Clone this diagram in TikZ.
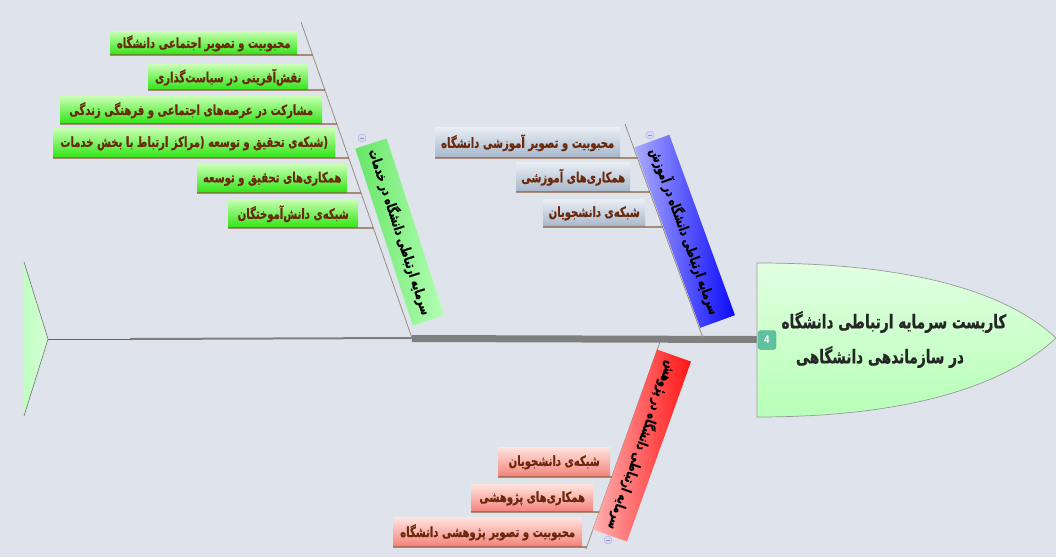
\documentclass[tikz,border=0pt]{standalone}
\usepackage{fontspec}
\setmainfont{DejaVu Sans}
\newfontfamily\ar[Script=Arabic,FakeStretch=0.72,BoldFeatures={FakeBold=0.6}]{DejaVu Sans}
\TeXXeTstate=1
\usetikzlibrary{calc,shadings}
\definecolor{bg}{HTML}{DFE4EC}
\definecolor{txtbrown}{HTML}{6A280C}
\definecolor{ulc}{HTML}{8A5A3A}
\definecolor{brl}{HTML}{9A8C7C}
\definecolor{gtop}{HTML}{C6FFB0}
\definecolor{gbot}{HTML}{2EE414}
\definecolor{btop}{HTML}{E8EDF4}
\definecolor{bbot}{HTML}{A6B6CA}
\definecolor{rtop}{HTML}{FFE2DC}
\definecolor{rbot}{HTML}{F2827A}
\definecolor{spine}{HTML}{7F7F7F}
\definecolor{badge}{HTML}{5EC29E}
\begin{document}
\begin{tikzpicture}[x=1pt,y=-1pt,
  sub/.style={inner sep=0pt, anchor=south west, font=\ar\bfseries\fontsize{14}{16}\selectfont, text=txtbrown},
  gsub/.style={sub, top color=gtop, bottom color=gbot},
  bsub/.style={sub, top color=btop, bottom color=bbot},
  rsub/.style={sub, top color=rtop, bottom color=rbot},
  uline/.style={draw=ulc, line width=1.1pt},
  bline/.style={draw=brl, line width=0.8pt},
  mainbox/.style={inner sep=0pt, font=\ar\bfseries\fontsize{14}{16}\selectfont, text=black},
  headtxt/.style={font=\ar\bfseries\fontsize{19}{22}\selectfont, text=black!85},
  collapse/.style={circle, minimum size=8pt, inner sep=0pt, draw=black!25!blue!30, fill=white!85!blue, line width=0.5pt,
    path picture={\draw[black!40, line width=0.6pt] ([xshift=-2pt]path picture bounding box.center) -- ([xshift=2pt]path picture bounding box.center);}},
]
\useasboundingbox (0,0) rectangle (1056,557);
\fill[bg] (0,0) rectangle (1056,557);

% coordinates of the branch lines and spine
\coordinate (gA) at (301,22);
\coordinate (gB) at (412,338);
\coordinate (bA) at (625,124);
\coordinate (bB) at (703,338);
\coordinate (rA) at (660,342);
\coordinate (rB) at (586,549);
\coordinate (tail) at (48,339);
\coordinate (sp1) at (130,339);
\coordinate (headL) at (757,339.5);

% tail
\fill[left color=green!25!white, right color=green!15!white] (24,262) -- (tail) -- (24,416) -- cycle;
\draw[gray, line width=0.6pt] (24,262) -- (tail) -- (24,416);

% spine
\draw[spine!80!black, line width=1pt] (tail) -- (sp1);
\draw[spine, line width=2pt] (sp1) -- (gB);
\draw[spine, line width=7pt] ([yshift=-0.5pt]gB) -- (headL);

% head
\draw[draw=gray!80, line width=0.7pt, top color=green!12!white, bottom color=green!28!white]
  (757,263) .. controls (920,263) and (1010,295) .. (1056,338)
  .. controls (1010,381) and (920,417) .. (757,417) -- cycle;
\node[headtxt] (h1) at (894,322) {\beginR کاربست سرمایه ارتباطی دانشگاه\endR};
\node[headtxt] (h2) at (880,357) {\beginR در سازماندهی دانشگاهی\endR};
\node[rounded corners=3pt, fill=badge, draw=badge!80!black, line width=0.4pt, minimum width=18pt, minimum height=19pt, inner sep=0pt,
  text=white, font=\sffamily\bfseries\fontsize{11}{12}\selectfont] (n4) at (767,340) {4};

% branch lines
\draw[bline] (gA) -- (gB);
\draw[bline] (bA) -- (bB);
\draw[bline] (rA) -- (rB);

% main branch boxes
\node[mainbox, rotate=-72, minimum width=186pt, minimum height=33pt, left color=green!55!white!90!black, right color=green!30!white] (gm) at (399.75,232)
  {\beginR سرمایه ارتباطی دانشگاه در خدمات\endR};
\node[mainbox, rotate=-70, minimum width=192pt, minimum height=37pt, left color={rgb,255:red,170;green,170;blue,255}, right color={rgb,255:red,10;green,10;blue,250}] (bm) at (684.75,231.25)
  {\beginR سرمایه ارتباطی دانشگاه در آموزش\endR};
\node[mainbox, rotate=-109.6, minimum width=191pt, minimum height=36pt, left color={rgb,255:red,255;green,176;blue,176}, right color={rgb,255:red,255;green,20;blue,20}] (rm) at (642,445.5)
  {\beginR سرمایه ارتباطی دانشگاه در پژوهش\endR};

% collapse markers
\node[collapse] (cg) at (362,138) {};
\node[collapse] (cb) at (650,135) {};
\node[collapse] (cr) at (608,540) {};

% green sub topics
\node[gsub, minimum width=187pt, minimum height=23pt] (g1) at (110,55) {\beginR محبوبیت و تصویر اجتماعی دانشگاه\endR};
\node[gsub, minimum width=160pt, minimum height=25pt] (g2) at (148,90) {\beginR نقش‌آفرینی در سیاست‌گذاری\endR};
\node[gsub, minimum width=262pt, minimum height=27pt] (g3) at (60,124) {\beginR مشارکت در عرصه‌های اجتماعی و فرهنگی زندگی\endR};
\node[gsub, minimum width=282pt, minimum height=29pt] (g4) at (53,158) {\beginR (شبکه‌ی تحقیق و توسعه (مراکز ارتباط با بخش خدمات\endR};
\node[gsub, minimum width=150pt, minimum height=28pt] (g5) at (197,193) {\beginR همکاری‌های تحقیق و توسعه\endR};
\node[gsub, minimum width=130pt, minimum height=28pt] (g6) at (228,228) {\beginR شبکه‌ی دانش‌آموختگان\endR};
\foreach \n in {g1,g2,g3,g4,g5,g6}
  \draw[uline] (\n.south west) -- (intersection of \n.south west--\n.south east and gA--gB);

% blue sub topics
\node[bsub, minimum width=185pt, minimum height=30pt] (b1) at (435,158) {\beginR محبوبیت و تصویر آموزشی دانشگاه\endR};
\node[bsub, minimum width=114pt, minimum height=29pt] (b2) at (516,192) {\beginR همکاری‌های آموزشی\endR};
\node[bsub, minimum width=102pt, minimum height=27pt] (b3) at (543,227) {\beginR شبکه‌ی دانشجویان\endR};
\foreach \n in {b1,b2,b3}
  \draw[uline] (\n.south west) -- (intersection of \n.south west--\n.south east and bA--bB);

% red sub topics
\node[rsub, minimum width=112pt, minimum height=29pt] (r1) at (498,477) {\beginR شبکه‌ی دانشجویان\endR};
\node[rsub, minimum width=122pt, minimum height=27pt] (r2) at (471,512) {\beginR همکاری‌های پژوهشی\endR};
\node[rsub, minimum width=189pt, minimum height=29pt] (r3) at (393,547) {\beginR محبوبیت و تصویر پژوهشی دانشگاه\endR};
\foreach \n in {r1,r2,r3}
  \draw[uline] (\n.south west) -- (intersection of \n.south west--\n.south east and rA--rB);
\end{tikzpicture}
\end{document}
